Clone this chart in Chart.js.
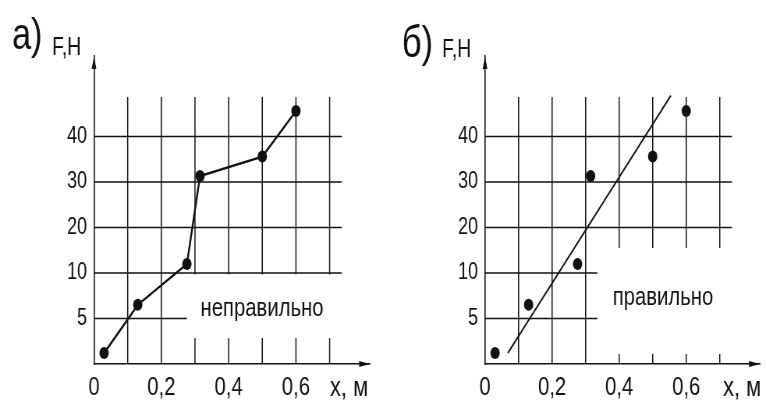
<!DOCTYPE html>
<html>
<head>
<meta charset="utf-8">
<script src="https://cdn.jsdelivr.net/npm/chart.js@4.4.1/dist/chart.umd.min.js"></script>
<style>
html, body { margin: 0; padding: 0; background: #fff; overflow: hidden; }
.panel { position: absolute; top: 0; width: 383px; height: 401px; overflow: hidden; }
/* the drawing uses a narrow hand-drawn look, so the canvas is squeezed sideways */
canvas { transform: scaleX(0.78); transform-origin: 0 0; }
</style>
</head>
<body>
<div class="panel" style="left:0"><canvas id="chartA" width="491" height="401"></canvas></div>
<div class="panel" style="left:383px"><canvas id="chartB" width="491" height="401"></canvas></div>
<script>
// measured points, x in metres, F in newtons
const xValues = [0.03, 0.13, 0.276, 0.315, 0.5, 0.6];
const forceValues = [1.2, 6.5, 12, 31.3, 35.6, 45.6];
// straight line drawn through the points on panel b
const fitX = [0.068, 0.554];
const fitForce = [1.2, 49];
// axis ticks
const xTicks = [0, 0.2, 0.4, 0.6];
const xTickLabels = ['0', '0,2', '0,4', '0,6'];
const yGridForces = [0, 5, 10, 20, 30, 40];
const yTickLabels = ['5', '10', '20', '30', '40'];

const SQUEEZE = 0.78;
const INK = '#111';
const FONT = "'Liberation Sans', Arial, sans-serif";

// the F axis is not uniform: every grid row is the next value of yGridForces
function toGrid(f) {
    for (let i = 1; i < yGridForces.length; i++) {
        if (f <= yGridForces[i]) {
            const a = yGridForces[i - 1], b = yGridForces[i];
            return i - 1 + (f - a) / (b - a);
        }
    }
    const last = yGridForces.length - 1;
    return last + (f - yGridForces[last]) / 10;
}

function points(xs, fs) {
    return xs.map((x, i) => ({ x: x, y: toGrid(fs[i]) }));
}

function text(ctx, str, x, y, size, align) {
    ctx.font = size + 'px ' + FONT;
    ctx.textAlign = align || 'left';
    ctx.textBaseline = 'alphabetic';
    ctx.fillText(str, x / SQUEEZE, y);
}

const sketchPlugin = {
    id: 'sketch',
    beforeDatasetsDraw(chart, args, o) {
        const { ctx, scales: { x, y } } = chart;
        ctx.save();
        ctx.strokeStyle = INK;
        ctx.lineWidth = 1.5;
        ctx.beginPath();
        for (let i = 1; i <= 7; i++) {
            const px = x.getPixelForValue(i / 10);
            ctx.moveTo(px, y.getPixelForValue(0));
            ctx.lineTo(px, y.getPixelForValue(5.87));
        }
        for (let j = 1; j <= 5; j++) {
            const py = y.getPixelForValue(j);
            ctx.moveTo(x.getPixelForValue(0), py);
            ctx.lineTo(x.getPixelForValue(0.736), py);
        }
        ctx.stroke();
        // white patch behind the caption
        const b = o.box;
        const l = x.getPixelForValue(b[0]), r = x.getPixelForValue(b[1]);
        const t = y.getPixelForValue(b[3]), btm = y.getPixelForValue(b[2]);
        ctx.fillStyle = '#fff';
        ctx.fillRect(l, t, r - l, btm - t);
        ctx.restore();
    },
    afterDraw(chart, args, o) {
        const { ctx, chartArea: a } = chart;
        ctx.save();
        ctx.fillStyle = INK;
        // arrow heads
        ctx.beginPath();
        ctx.moveTo(a.left, a.top);
        ctx.lineTo(a.left - 3, a.top + 13);
        ctx.lineTo(a.left + 3, a.top + 13);
        ctx.closePath();
        ctx.moveTo(a.right, a.bottom);
        ctx.lineTo(a.right - 14, a.bottom - 3);
        ctx.lineTo(a.right - 14, a.bottom + 3);
        ctx.closePath();
        ctx.fill();

        text(ctx, o.letter, o.letterAt[0], o.letterAt[1], 44);
        text(ctx, 'F,Н', o.unitAt[0], o.unitAt[1], 25);
        text(ctx, o.note, o.noteAt[0], o.noteAt[1], 26, 'center');
        text(ctx, 'x, м', o.axisAt[0], o.axisAt[1], 28);
        ctx.restore();
    }
};

function makeChart(id, datasets, axisLeft, padRight, sketch) {
    return new Chart(document.getElementById(id), {
        type: 'scatter',
        data: { datasets: datasets },
        options: {
            responsive: false,
            animation: false,
            devicePixelRatio: 1,
            layout: { padding: { top: 56, right: padRight, left: 0, bottom: 0 } },
            scales: {
                x: {
                    type: 'linear',
                    min: 0,
                    max: 0.82,
                    grid: { display: false, drawTicks: false },
                    border: { display: true, color: INK, width: 1.6 },
                    afterBuildTicks: s => { s.ticks = xTicks.map(v => ({ value: v })); },
                    afterFit: s => { s.height = 37; },
                    ticks: {
                        color: INK,
                        padding: 8,
                        autoSkip: false,
                        maxRotation: 0,
                        font: { family: FONT, size: 26 },
                        callback: (v, i) => xTickLabels[i]
                    }
                },
                y: {
                    type: 'linear',
                    min: 0,
                    max: 6.77,
                    grid: { display: false, drawTicks: false },
                    border: { display: true, color: INK, width: 1.6 },
                    afterBuildTicks: s => { s.ticks = yTickLabels.map((t, i) => ({ value: i + 1 })); },
                    afterFit: s => { s.width = axisLeft; },
                    ticks: {
                        color: INK,
                        padding: 9,
                        font: { family: FONT, size: 23 },
                        callback: (v, i) => yTickLabels[i]
                    }
                }
            },
            plugins: {
                legend: { display: false },
                tooltip: { enabled: false },
                sketch: sketch
            }
        },
        plugins: [sketchPlugin]
    });
}

const dots = {
    backgroundColor: INK,
    borderColor: INK,
    pointRadius: 6,
    pointBorderWidth: 0
};

makeChart('chartA', [
    Object.assign({ data: points(xValues, forceValues), showLine: true, borderWidth: 2.4, tension: 0 }, dots)
], 94 / SQUEEZE, 491 - 370 / SQUEEZE, {
    box: [0.276, 0.75, 0.57, 1.97],
    letter: 'а)', letterAt: [12, 49],
    unitAt: [52, 55],
    note: 'неправильно', noteAt: [262, 316],
    axisAt: [330, 396]
});

makeChart('chartB', [
    Object.assign({ data: points(xValues, forceValues), showLine: false }, dots),
    { data: points(fitX, fitForce), showLine: true, borderColor: INK, borderWidth: 1.8, pointRadius: 0 }
], 102 / SQUEEZE, 491 - 377 / SQUEEZE, {
    box: [0.335, 0.75, 0.22, 2.55],
    letter: 'б)', letterAt: [19, 57],
    unitAt: [59, 57],
    note: 'правильно', noteAt: [280, 305],
    axisAt: [340, 396]
});
</script>
</body>
</html>
